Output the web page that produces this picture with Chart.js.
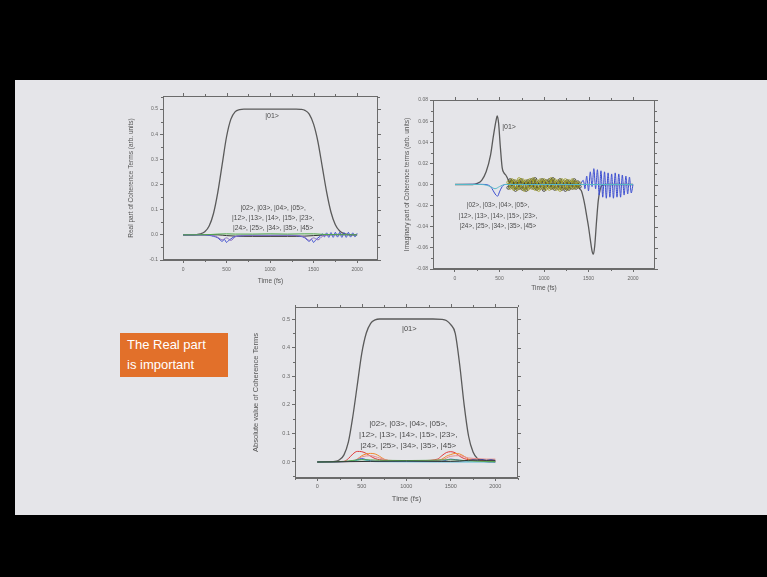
<!DOCTYPE html>
<html>
<head>
<meta charset="utf-8">
<script src="https://cdn.jsdelivr.net/npm/chart.js@4.4.0/dist/chart.umd.min.js"></script>
<style>
  html, body { margin: 0; padding: 0; background: #000; width: 767px; height: 577px; overflow: hidden; }
  #slide { position: absolute; left: 15px; top: 80px; width: 752px; height: 435px; background: #e5e5e9; }
  canvas { position: absolute; }
  #note { position: absolute; left: 120px; top: 333px; width: 108px; height: 44px; box-sizing: border-box;
          padding: 2px 0 0 7px; background: #e2702a; color: #fff;
          font-family: "Liberation Sans", Arial, sans-serif; font-size: 13px; line-height: 20px; }
</style>
</head>
<body>
<div id="slide"></div>
<canvas id="realChart" width="268" height="200" style="left:118px;top:90px"></canvas>
<canvas id="imagChart" width="264" height="202" style="left:398px;top:94px"></canvas>
<canvas id="absChart" width="280" height="210" style="left:245px;top:300px"></canvas>
<div id="note">The Real part<br>is important</div>

<script>
// ---- tick values ----
const timeTicks = [0, 500, 1000, 1500, 2000];
const realTicks = [-0.1, 0, 0.1, 0.2, 0.3, 0.4, 0.5];
const imagTicks = [-0.08, -0.06, -0.04, -0.02, 0, 0.02, 0.04, 0.06, 0.08];
const absTicks = [0, 0.1, 0.2, 0.3, 0.4, 0.5];

// ---- state labels ----
const mainState = '|01>';
const otherStates = ['|02>, |03>, |04>, |05>,', '|12>, |13>, |14>, |15>, |23>,', '|24>, |25>, |34>, |35>, |45>'];

// ---- real part of coherence terms ----
const real01Time = [0, 50, 100, 150, 200, 250, 300, 350, 400, 450, 500, 550, 600, 650, 700, 800, 900, 1000, 1100, 1200, 1300, 1350, 1400, 1450, 1500, 1550, 1600, 1650, 1700, 1750, 1800, 1850, 1900, 1950, 2000];
const real01 = [0, 0, 0, 0.001, 0.004, 0.012, 0.035, 0.085, 0.17, 0.28, 0.39, 0.46, 0.49, 0.498, 0.5, 0.5, 0.5, 0.5, 0.5, 0.5, 0.5, 0.499, 0.495, 0.48, 0.44, 0.37, 0.27, 0.17, 0.09, 0.04, 0.015, 0.005, 0.001, 0, 0];

const realBlueTime = [0, 200, 300, 350, 400, 425, 450, 475, 500, 525, 550, 575, 600, 650, 700, 800, 900, 1000, 1100, 1200, 1300, 1350, 1400, 1425, 1450, 1475, 1500, 1525, 1550, 1575, 1600, 1625, 1650, 1675, 1700, 1725, 1750, 1775, 1800, 1825, 1850, 1875, 1900, 1925, 1950, 1975, 2000];
const realBlue = [0, 0, -0.002, -0.006, -0.012, -0.02, -0.026, -0.018, -0.03, -0.022, -0.016, -0.01, -0.007, -0.004, -0.003, -0.002, -0.002, -0.002, -0.002, -0.002, -0.003, -0.006, -0.012, -0.02, -0.026, -0.017, -0.03, -0.02, -0.012, -0.006, 0.004, -0.008, 0.008, -0.01, 0.009, -0.01, 0.01, -0.009, 0.01, -0.01, 0.009, -0.01, 0.01, -0.009, 0.008, -0.008, 0.006];

const realPurpleTime = [0, 300, 400, 450, 500, 550, 600, 700, 1300, 1400, 1450, 1500, 1550, 1600, 1700, 2000];
const realPurple = [0, 0, -0.01, -0.02, -0.012, -0.022, -0.008, -0.002, -0.002, -0.01, -0.022, -0.012, -0.02, -0.006, 0, 0];

const realGreenTime = [0, 300, 400, 500, 600, 800, 1000, 1200, 1400, 1500, 1600, 1700, 2000];
const realGreen = [0, 0.001, 0.003, 0.004, 0.003, 0.003, 0.004, 0.003, 0.004, 0.004, 0.002, 0.001, 0];

const realDarkTime = [0, 400, 500, 600, 800, 1000, 1200, 1400, 1500, 1600, 1800, 2000];
const realDark = [0, 0, -0.003, -0.005, -0.006, -0.006, -0.006, -0.005, -0.003, -0.001, 0.002, 0.001];

// ---- imaginary part of coherence terms ----
const imag01Time = [0, 200, 250, 300, 350, 400, 430, 460, 475, 490, 510, 530, 550, 570, 590, 610, 630, 650, 700, 800, 900, 1000, 1100, 1200, 1300, 1380, 1400, 1420, 1440, 1460, 1480, 1500, 1520, 1540, 1555, 1570, 1590, 1610, 1630, 1650, 1700, 2000];
const imag01 = [0, 0, 0.001, 0.004, 0.012, 0.028, 0.045, 0.06, 0.065, 0.058, 0.035, 0.016, 0.011, 0.009, 0.006, 0.002, 0.004, 0.001, 0.002, 0.001, 0.001, 0, 0.001, 0, 0.001, -0.001, -0.004, -0.006, -0.012, -0.02, -0.03, -0.04, -0.052, -0.063, -0.066, -0.058, -0.035, -0.015, -0.005, -0.001, 0, 0];

const imagBandTime = [600, 620, 640, 660, 680, 700, 720, 740, 760, 780, 800, 820, 840, 860, 880, 900, 920, 940, 960, 980, 1000, 1020, 1040, 1060, 1080, 1100, 1120, 1140, 1160, 1180, 1200, 1220, 1240, 1260, 1280, 1300, 1320, 1340, 1360, 1380, 1400];
const imagOlive = [0.002, -0.003, 0.004, -0.004, 0.003, -0.004, 0.005, -0.003, 0.004, -0.005, 0.003, -0.004, 0.004, -0.003, 0.005, -0.004, 0.003, -0.005, 0.004, -0.003, 0.004, -0.004, 0.003, -0.004, 0.005, -0.003, 0.004, -0.004, 0.003, -0.005, 0.004, -0.003, 0.004, -0.004, 0.003, -0.003, 0.004, -0.003, 0.002, -0.002, 0.001];
const imagDark = [-0.003, 0.004, -0.002, 0.003, -0.005, 0.002, -0.003, 0.004, -0.004, 0.002, -0.005, 0.003, -0.002, 0.004, -0.003, 0.005, -0.004, 0.002, -0.003, 0.004, -0.005, 0.003, -0.002, 0.004, -0.003, 0.005, -0.004, 0.002, -0.003, 0.004, -0.004, 0.002, -0.005, 0.003, -0.004, 0.002, -0.003, 0.004, -0.003, 0.002, -0.002];

const imagBlueTime = [0, 350, 400, 430, 460, 480, 500, 530, 560, 700, 1000, 1400, 1440, 1460, 1480, 1500, 1520, 1540, 1560, 1580, 1600, 1620, 1640, 1660, 1680, 1700, 1720, 1740, 1760, 1780, 1800, 1820, 1840, 1860, 1880, 1900, 1920, 1940, 1960, 1980, 2000];
const imagBlue = [0, 0, -0.002, -0.006, -0.01, -0.011, -0.007, -0.002, 0, 0, 0, 0, 0.004, -0.004, 0.008, -0.006, 0.012, -0.002, 0.015, -0.004, 0.014, -0.01, 0.013, -0.012, 0.012, -0.013, 0.011, -0.012, 0.01, -0.013, 0.011, -0.012, 0.01, -0.012, 0.009, -0.01, 0.008, -0.009, 0.007, -0.008, 0];

const imagCyanTime = [0, 300, 400, 450, 500, 560, 2000];
const imagCyan = [0, 0, -0.002, -0.004, -0.002, 0, 0];

// ---- absolute value of coherence terms ----
const abs01Time = [0, 100, 200, 250, 300, 350, 400, 450, 500, 550, 600, 650, 700, 1000, 1300, 1400, 1450, 1500, 1550, 1600, 1650, 1700, 1750, 1800, 1850, 1900, 2000];
const abs01 = [0, 0, 0.002, 0.008, 0.025, 0.07, 0.16, 0.27, 0.38, 0.45, 0.485, 0.497, 0.5, 0.5, 0.5, 0.499, 0.495, 0.48, 0.45, 0.34, 0.2, 0.09, 0.035, 0.012, 0.004, 0.001, 0];

const absRedTime = [0, 300, 350, 400, 450, 500, 550, 600, 650, 700, 800, 1000, 1200, 1350, 1400, 1450, 1500, 1550, 1600, 1650, 1700, 1800, 1900, 2000];
const absRed = [0, 0.002, 0.012, 0.028, 0.037, 0.036, 0.03, 0.02, 0.012, 0.008, 0.005, 0.004, 0.005, 0.01, 0.022, 0.033, 0.036, 0.032, 0.02, 0.012, 0.008, 0.006, 0.005, 0.004];

const absOrangeTime = [0, 400, 450, 500, 550, 600, 650, 700, 750, 800, 1000, 1300, 1400, 1450, 1500, 1550, 1600, 1650, 1700, 1750, 1800, 2000];
const absOrange = [0, 0.002, 0.01, 0.022, 0.028, 0.03, 0.028, 0.02, 0.01, 0.005, 0.003, 0.004, 0.01, 0.02, 0.026, 0.03, 0.028, 0.02, 0.01, 0.005, 0.003, 0.002];

const absPinkTime = [0, 400, 500, 600, 700, 800, 1000, 1400, 1500, 1600, 1700, 1800, 1900, 2000];
const absPink = [0, 0.004, 0.018, 0.022, 0.014, 0.006, 0.004, 0.008, 0.02, 0.022, 0.014, 0.012, 0.01, 0.01];

const absGreenTime = [0, 300, 500, 700, 1000, 1300, 1500, 1700, 2000];
const absGreen = [0, 0.002, 0.008, 0.006, 0.005, 0.006, 0.008, 0.004, 0.002];

const absBlueTime = [0, 400, 450, 500, 550, 600, 700, 1000, 1400, 1500, 1600, 1700, 1750, 1800, 1850, 1900, 1950, 2000];
const absBlue = [0, 0.002, 0.008, 0.012, 0.008, 0.004, 0.002, 0.002, 0.003, 0.01, 0.006, 0.004, 0.008, 0.005, 0.009, 0.005, 0.008, 0.004];

const absCyanTime = [0, 400, 500, 550, 600, 700, 2000];
const absCyan = [0, 0.003, 0.009, 0.006, 0.002, 0.001, 0];

const absDarkTime = [0, 600, 1000, 1400, 1600, 1700, 1800, 1900, 2000];
const absDark = [0, 0.002, 0.003, 0.002, 0.003, 0.006, 0.007, 0.006, 0.006];

// ---- helpers ----
const FONT = '"Liberation Sans", Arial, sans-serif';
const pts = (t, v) => t.map((x, i) => ({ x, y: v[i] }));
function series(t, v, color, extra) {
  return Object.assign({
    data: pts(t, v), borderColor: color, backgroundColor: color, borderWidth: 1,
    pointRadius: 0, fill: false, cubicInterpolationMode: 'monotone'
  }, extra || {});
}

// box frame with mirrored major ticks and minor ticks on every side
const framePlugin = {
  id: 'frame',
  afterDatasetsDraw(chart) {
    const { ctx, chartArea: a, scales } = chart;
    const xs = scales.x, ys = scales.y;
    ctx.save();
    ctx.strokeStyle = '#6b6b6b';
    ctx.lineWidth = 1;
    ctx.strokeRect(Math.round(a.left) + 0.5, Math.round(a.top) + 0.5, Math.round(a.right - a.left) - 1, Math.round(a.bottom - a.top) - 1);
    const xv = xs.ticks.map(t => t.value), yv = ys.ticks.map(t => t.value);
    const minors = (vals, lo, hi) => {
      const step = vals[1] - vals[0], out = [];
      for (let v = vals[0] - step / 2; v <= hi; v += step) if (v >= lo) out.push(v);
      return out;
    };
    ctx.beginPath();
    xv.forEach(v => { const p = Math.round(xs.getPixelForValue(v)) + 0.5; ctx.moveTo(p, a.top); ctx.lineTo(p, a.top - 3); });
    yv.forEach(v => { const p = Math.round(ys.getPixelForValue(v)) + 0.5; ctx.moveTo(a.right, p); ctx.lineTo(a.right + 3, p); });
    minors(xv, xs.min, xs.max).forEach(v => {
      const p = Math.round(xs.getPixelForValue(v)) + 0.5;
      ctx.moveTo(p, a.bottom); ctx.lineTo(p, a.bottom + 2);
      ctx.moveTo(p, a.top); ctx.lineTo(p, a.top - 2);
    });
    minors(yv, ys.min, ys.max).forEach(v => {
      const p = Math.round(ys.getPixelForValue(v)) + 0.5;
      ctx.moveTo(a.left, p); ctx.lineTo(a.left - 2, p);
      ctx.moveTo(a.right, p); ctx.lineTo(a.right + 2, p);
    });
    ctx.stroke();
    ctx.restore();
  }
};

// text notes placed at data coordinates
const notesPlugin = {
  id: 'notes',
  afterDatasetsDraw(chart, args, opts) {
    const { ctx, scales: { x, y } } = chart;
    ctx.save();
    ctx.fillStyle = '#4a4a4a';
    ctx.textAlign = 'center';
    ctx.textBaseline = 'middle';
    (opts.items || []).forEach(it => {
      ctx.font = it.size + 'px ' + FONT;
      it.lines.forEach((ln, i) => ctx.fillText(ln, x.getPixelForValue(it.x), y.getPixelForValue(it.y) + i * it.gap));
    });
    ctx.restore();
  }
};

function makeScales(o) {
  const tickFont = { family: FONT, size: o.tickSize };
  return {
    x: {
      type: 'linear', min: o.xMin, max: o.xMax,
      afterBuildTicks: s => { s.ticks = timeTicks.map(v => ({ value: v })); },
      afterFit: s => { s.height = o.xHeight; },
      ticks: { font: tickFont, color: '#666', padding: o.xTickPad, maxRotation: 0, callback: v => String(v) },
      grid: { drawOnChartArea: false, drawTicks: true, tickLength: 3, color: '#6b6b6b' },
      border: { display: true, color: '#6b6b6b' },
      title: { display: true, text: 'Time (fs)', color: '#555', font: { family: FONT, size: o.xTitleSize }, padding: { top: 0, bottom: o.xTitlePad } }
    },
    y: {
      type: 'linear', min: o.yMin, max: o.yMax,
      afterBuildTicks: s => { s.ticks = o.yTicks.map(v => ({ value: v })); },
      afterFit: s => { s.width = o.yWidth; },
      ticks: { font: tickFont, color: '#666', padding: 2, callback: v => Number(v).toFixed(o.digits) },
      grid: { drawOnChartArea: false, drawTicks: true, tickLength: 3, color: '#6b6b6b' },
      border: { display: true, color: '#6b6b6b' },
      title: { display: true, text: o.yTitle, color: '#555', font: { family: FONT, size: o.yTitleSize }, padding: { top: o.yTitlePad, bottom: 0 } }
    }
  };
}

function makeChart(id, datasets, scaleOpts, padding, notes) {
  return new Chart(document.getElementById(id), {
    type: 'line',
    data: { datasets },
    options: {
      responsive: false, animation: false, devicePixelRatio: 1,
      layout: { padding },
      plugins: { legend: { display: false }, tooltip: { enabled: false }, notes: { items: notes } },
      scales: makeScales(scaleOpts)
    },
    plugins: [framePlugin, notesPlugin]
  });
}

// ---- real part ----
makeChart('realChart', [
  series(realGreenTime, realGreen, '#4fa84a'),
  series(realPurpleTime, realPurple, '#8a6fc0'),
  series(realBlueTime, realBlue, '#3d4fd0'),
  series(realDarkTime, realDark, '#333333'),
  series(real01Time, real01, '#5a5a5a', { borderWidth: 1.3 })
], {
  xMin: -230, xMax: 2240, yMin: -0.1, yMax: 0.552, yTicks: realTicks, digits: 1,
  yWidth: 45, xHeight: 30, tickSize: 5, xTitleSize: 6.5, yTitleSize: 6.5, xTitlePad: 5, yTitlePad: 9, xTickPad: 4,
  yTitle: 'Real part of Coherence Terms (arb. units)'
}, { top: 6, right: 8, left: 0, bottom: 0 }, [
  { x: 1023, y: 0.472, lines: [mainState], size: 7, gap: 0 },
  { x: 1035, y: 0.108, lines: otherStates, size: 6.7, gap: 10 }
]);

// ---- imaginary part ----
makeChart('imagChart', [
  series(imagCyanTime, imagCyan, '#55b8c8'),
  series(imagBandTime, imagOlive, '#9c9c1e', { pointRadius: 1.6, pointStyle: 'circle', pointBackgroundColor: 'rgba(0,0,0,0)', pointBorderColor: '#9c9c1e', pointBorderWidth: 0.8 }),
  series(imagBandTime, imagDark, '#2e2e2e', { pointRadius: 1.6, pointStyle: 'circle', pointBackgroundColor: 'rgba(0,0,0,0)', pointBorderColor: '#2e2e2e', pointBorderWidth: 0.8 }),
  series(imagBlueTime, imagBlue, '#3d4fd0', { cubicInterpolationMode: 'default', tension: 0.3 }),
  series(imag01Time, imag01, '#5a5a5a', { borderWidth: 1.3 })
], {
  xMin: -247, xMax: 2247, yMin: -0.08, yMax: 0.08, yTicks: imagTicks, digits: 2,
  yWidth: 35, xHeight: 27, tickSize: 5, xTitleSize: 6.5, yTitleSize: 6.5, xTitlePad: 4, yTitlePad: 5, xTickPad: 4,
  yTitle: 'Imaginary part of Coherence terms (arb. units)'
}, { top: 6, right: 7, left: 0, bottom: 0 }, [
  { x: 607, y: 0.0543, lines: [mainState], size: 7, gap: 0 },
  { x: 483, y: -0.02, lines: otherStates, size: 6.4, gap: 10.5 }
]);

// ---- absolute value ----
makeChart('absChart', [
  series(absDarkTime, absDark, '#333333'),
  series(absGreenTime, absGreen, '#4fa84a'),
  series(absCyanTime, absCyan, '#45b5d5'),
  series(absBlueTime, absBlue, '#3d4fd0'),
  series(absPinkTime, absPink, '#e88a8a'),
  series(absOrangeTime, absOrange, '#ef8a2e'),
  series(absRedTime, absRed, '#e03a3a'),
  series(abs01Time, abs01, '#5a5a5a', { borderWidth: 1.3 })
], {
  xMin: -250, xMax: 2255, yMin: -0.056, yMax: 0.542, yTicks: absTicks, digits: 1,
  yWidth: 50, xHeight: 32, tickSize: 5.5, xTitleSize: 7.5, yTitleSize: 7.5, xTitlePad: 7, yTitlePad: 6, xTickPad: 2,
  yTitle: 'Absolute value of Coherence Terms'
}, { top: 7, right: 7, left: 0, bottom: 0 }, [
  { x: 1034, y: 0.465, lines: [mainState], size: 7.5, gap: 0 },
  { x: 1022, y: 0.133, lines: otherStates, size: 8, gap: 11 }
]);
</script>
</body>
</html>
